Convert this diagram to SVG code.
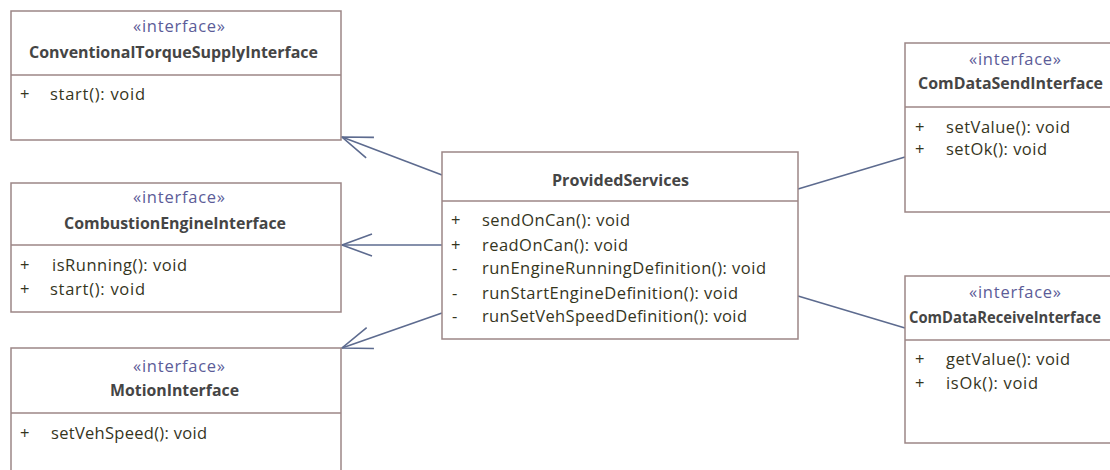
<svg xmlns="http://www.w3.org/2000/svg" width="1110" height="470" viewBox="0 0 1110 470">
  <style>
    .box { fill: #ffffff; stroke: #9c8686; stroke-width: 1.5; }
    .sep { stroke: #9c8686; stroke-width: 1.5; }
    .stereo { font-family: "Open Sans", "Noto Sans", sans-serif; font-size: 16.5px; fill: #5c5c98; text-anchor: middle; }
    .name { font-family: "Open Sans", "Noto Sans", sans-serif; font-size: 16px; font-weight: bold; fill: #454545; }
    .op { font-family: "Open Sans", "Noto Sans", sans-serif; font-size: 16.5px; fill: #35351d; }
    .link { fill: none; stroke: #5d6b8f; stroke-width: 1.6; }
  </style>
  <defs>
    <marker id="open-arrow" markerUnits="userSpaceOnUse" orient="auto" markerWidth="40" markerHeight="40" refX="0" refY="0" viewBox="-35 -20 40 40" overflow="visible">
      <path d="M-30,-11 L0,0 L-30,11" fill="none" stroke="#5d6b8f" stroke-width="1.6"/>
    </marker>
  </defs>
  <rect width="1110" height="470" fill="#ffffff"/>

  <!-- connectors -->
  <g id="connectors">
    <line class="link" x1="442" y1="175" x2="342" y2="137" marker-end="url(#open-arrow)"/>
    <line class="link" x1="442" y1="245" x2="342" y2="245" marker-end="url(#open-arrow)"/>
    <line class="link" x1="442" y1="313" x2="342" y2="348" marker-end="url(#open-arrow)"/>
    <line class="link" x1="798" y1="189" x2="905" y2="157"/>
    <line class="link" x1="798" y1="296" x2="905" y2="328"/>
  </g>

  <!-- ConventionalTorqueSupplyInterface -->
  <g id="ConventionalTorqueSupplyInterface">
    <rect class="box" x="11" y="11" width="330" height="129"/>
    <line class="sep" x1="11" y1="75" x2="341" y2="75"/>
    <text class="stereo" x="179" y="32" textLength="92">«interface»</text>
    <text class="name" x="29" y="58" textLength="289" lengthAdjust="spacingAndGlyphs">ConventionalTorqueSupplyInterface</text>
    <text class="op" x="20" y="100">+</text>
    <text class="op" x="50" y="100" textLength="95">start(): void</text>
  </g>

  <!-- CombustionEngineInterface -->
  <g id="CombustionEngineInterface">
    <rect class="box" x="11" y="183" width="330" height="129"/>
    <line class="sep" x1="11" y1="245" x2="341" y2="245"/>
    <text class="stereo" x="179" y="203" textLength="92">«interface»</text>
    <text class="name" x="64" y="229" textLength="222" lengthAdjust="spacingAndGlyphs">CombustionEngineInterface</text>
    <text class="op" x="20" y="271">+</text>
    <text class="op" x="52" y="271" textLength="135">isRunning(): void</text>
    <text class="op" x="20" y="295">+</text>
    <text class="op" x="50" y="295" textLength="95">start(): void</text>
  </g>

  <!-- MotionInterface -->
  <g id="MotionInterface">
    <rect class="box" x="11" y="348" width="330" height="140"/>
    <line class="sep" x1="11" y1="413" x2="341" y2="413"/>
    <text class="stereo" x="179" y="372" textLength="92">«interface»</text>
    <text class="name" x="110" y="396" textLength="129" lengthAdjust="spacingAndGlyphs">MotionInterface</text>
    <text class="op" x="20" y="439">+</text>
    <text class="op" x="51" y="439" textLength="156">setVehSpeed(): void</text>
  </g>

  <!-- ProvidedServices -->
  <g id="ProvidedServices">
    <rect class="box" x="442" y="152" width="356" height="187"/>
    <line class="sep" x1="442" y1="201" x2="798" y2="201"/>
    <text class="name" x="552" y="186" textLength="137" lengthAdjust="spacingAndGlyphs">ProvidedServices</text>
    <text class="op" x="451" y="226">+</text>
    <text class="op" x="482" y="226" textLength="148">sendOnCan(): void</text>
    <text class="op" x="451" y="251">+</text>
    <text class="op" x="482" y="251" textLength="146">readOnCan(): void</text>
    <text class="op" x="452" y="274">-</text>
    <text class="op" x="482" y="274" textLength="284">runEngineRunningDefinition(): void</text>
    <text class="op" x="452" y="299">-</text>
    <text class="op" x="482" y="299" textLength="256">runStartEngineDefinition(): void</text>
    <text class="op" x="452" y="322">-</text>
    <text class="op" x="482" y="322" textLength="265">runSetVehSpeedDefinition(): void</text>
  </g>

  <!-- ComDataSendInterface -->
  <g id="ComDataSendInterface">
    <rect class="box" x="905" y="43" width="215" height="169"/>
    <line class="sep" x1="905" y1="107" x2="1115" y2="107"/>
    <text class="stereo" x="1015" y="65" textLength="92">«interface»</text>
    <text class="name" x="918" y="89" textLength="185" lengthAdjust="spacingAndGlyphs">ComDataSendInterface</text>
    <text class="op" x="915" y="133">+</text>
    <text class="op" x="946" y="133" textLength="124">setValue(): void</text>
    <text class="op" x="915" y="155">+</text>
    <text class="op" x="946" y="155" textLength="101">setOk(): void</text>
  </g>

  <!-- ComDataReceiveInterface -->
  <g id="ComDataReceiveInterface">
    <rect class="box" x="905" y="276" width="215" height="167"/>
    <line class="sep" x1="905" y1="340" x2="1115" y2="340"/>
    <text class="stereo" x="1015" y="298" textLength="92">«interface»</text>
    <text class="name" x="909" y="323" textLength="192" lengthAdjust="spacingAndGlyphs">ComDataReceiveInterface</text>
    <text class="op" x="915" y="365">+</text>
    <text class="op" x="946" y="365" textLength="124">getValue(): void</text>
    <text class="op" x="915" y="389">+</text>
    <text class="op" x="946" y="389" textLength="92">isOk(): void</text>
  </g>
</svg>
